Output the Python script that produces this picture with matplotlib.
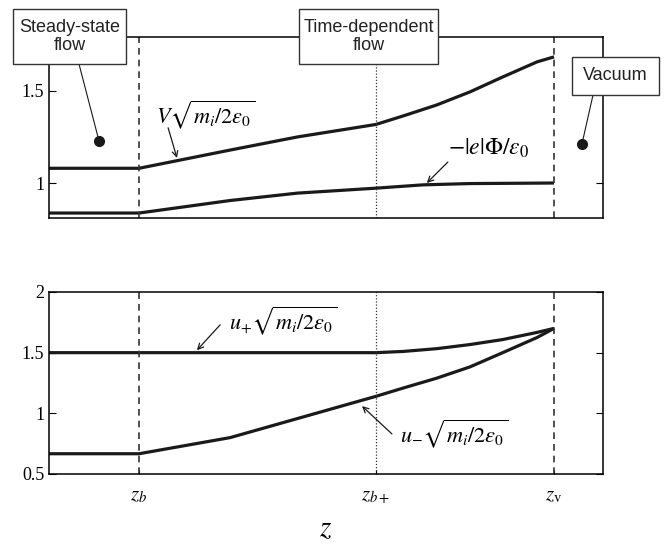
import matplotlib.pyplot as plt
from matplotlib.patches import Rectangle

plt.rcParams['mathtext.fontset'] = 'stix'
plt.rcParams['font.family'] = ['Liberation Serif', 'DejaVu Serif']

# positions on z (axis runs 0..1)
z_b = 0.1625
z_bp = 0.590
z_v = 0.9116

# top panel: V*sqrt(mi/2eps0) and -|e|Phi/eps0
v_z = [0.0, z_b, 0.327, 0.448, z_bp, 0.639, 0.700, 0.760, 0.819, 0.881, z_v]
v_val = [1.08, 1.08, 1.179, 1.25, 1.318, 1.364, 1.424, 1.495, 1.576, 1.658, 1.685]
phi_z = [0.0, z_b, 0.327, 0.448, z_bp, 0.675, 0.760, z_v]
phi_val = [0.837, 0.837, 0.905, 0.945, 0.972, 0.99, 0.997, 1.0]

# bottom panel: u+ and u-
up_z = [0.0, z_bp, 0.639, 0.700, 0.760, 0.819, 0.881, z_v]
up_val = [1.5, 1.5, 1.51, 1.533, 1.567, 1.608, 1.667, 1.70]
um_z = [0.0, z_b, 0.327, z_bp, 0.639, 0.700, 0.760, 0.819, 0.881, z_v]
um_val = [0.667, 0.667, 0.80, 1.14, 1.208, 1.29, 1.383, 1.50, 1.625, 1.70]

W, H = 665, 552
fig = plt.figure(figsize=(W / 100, H / 100), dpi=100)
ax1 = fig.add_axes([49 / W, 1 - 218 / H, 554 / W, 181 / H])
ax2 = fig.add_axes([49 / W, 1 - 474 / H, 554 / W, 182 / H])

lw = 2.3
ax1.plot(v_z, v_val, color='#1a1a1a', lw=lw, solid_capstyle='butt')
ax1.plot(phi_z, phi_val, color='#1a1a1a', lw=lw, solid_capstyle='butt')
ax2.plot(up_z, up_val, color='#1a1a1a', lw=lw, solid_capstyle='butt')
ax2.plot(um_z, um_val, color='#1a1a1a', lw=lw, solid_capstyle='butt')

for ax in (ax1, ax2):
    ax.axvline(z_b, color='#333333', lw=1.2, ls=(0, (4, 3)))
    ax.axvline(z_bp, color='#333333', lw=0.9, ls=(0, (1, 1.5)))
    ax.axvline(z_v, color='#333333', lw=1.2, ls=(0, (4, 3)))
    ax.set_xlim(0, 1)
    ax.tick_params(direction='in', length=5, labelsize=13, right=True, width=0.8)
    for s in ax.spines.values():
        s.set_linewidth(1.1)

ax1.set_ylim(0.81, 1.793)
ax1.set_yticks([1, 1.5])
ax1.set_yticklabels(['1', '1.5'])
ax1.set_xticks([])

ax2.set_ylim(0.5, 2.0)
ax2.set_yticks([0.5, 1, 1.5, 2])
ax2.set_yticklabels(['0.5', '1', '1.5', '2'])
ax2.set_xticks([z_b, z_bp, z_v])
ax2.set_xticklabels([r'$z_b$', r'$z_{b+}$', r'$z_\mathrm{v}$'], fontsize=15)
ax2.tick_params(axis='x', length=3, pad=9)
ax2.set_xlabel(r'$z$', fontsize=21, labelpad=8)

arr = dict(arrowstyle='->', lw=0.9, color='#1a1a1a', shrinkA=0, shrinkB=0)
ax1.text(0.282, 1.37, r'$V\sqrt{m_i/2\varepsilon_0}$', fontsize=16, ha='center', va='center')
ax1.annotate('', xy=(0.231, 1.136), xytext=(0.215, 1.30), arrowprops=arr)
ax1.text(0.794, 1.19, r'$-|e|\Phi/\varepsilon_0$', fontsize=17, ha='center', va='center')
ax1.annotate('', xy=(0.682, 1.0), xytext=(0.72, 1.114), arrowprops=arr)

ax2.text(0.423, 1.76, r'$u_{\!+}\!\sqrt{m_i/2\varepsilon_0}$', fontsize=16, ha='center', va='center')
ax2.annotate('', xy=(0.267, 1.52), xytext=(0.309, 1.73), arrowprops=arr)
ax2.text(0.731, 0.83, r'$u_{\!-}\!\sqrt{m_i/2\varepsilon_0}$', fontsize=16, ha='center', va='center')
ax2.annotate('', xy=(0.565, 1.06), xytext=(0.619, 0.83), arrowprops=arr)

# region boxes drawn over the frame
def region_box(x0, y0, x1, y1, label, line_from, dot):
    fig.add_artist(Rectangle((x0 / W, 1 - y1 / H), (x1 - x0) / W, (y1 - y0) / H,
                             transform=fig.transFigure, facecolor='white',
                             edgecolor='#333333', lw=1.0, zorder=10))
    fig.text((x0 + x1) / 2 / W, 1 - (y0 + y1) / 2 / H, label, ha='center', va='center',
             fontsize=13, family=['Liberation Sans', 'DejaVu Sans'], linespacing=1.15,
             zorder=11, color='#222222')
    if dot is not None:
        ax1.plot([dot[0]], [dot[1]], 'o', color='#1a1a1a', ms=7, clip_on=False, zorder=5)
        ax1.annotate('', xy=dot, xytext=(line_from[0] / W, 1 - line_from[1] / H),
                     textcoords='figure fraction', annotation_clip=False,
                     arrowprops=dict(arrowstyle='-', lw=0.8, color='#1a1a1a',
                                     shrinkA=0, shrinkB=0))

region_box(13, 9, 126, 64, 'Steady-state\nflow', (79, 64), (0.0903, 1.228))
region_box(299, 9, 438, 64, 'Time-dependent\nflow', None, None)
region_box(572, 57, 659, 95, 'Vacuum', (593, 95), (0.962, 1.212))

fig.savefig('out.png', dpi=100)
